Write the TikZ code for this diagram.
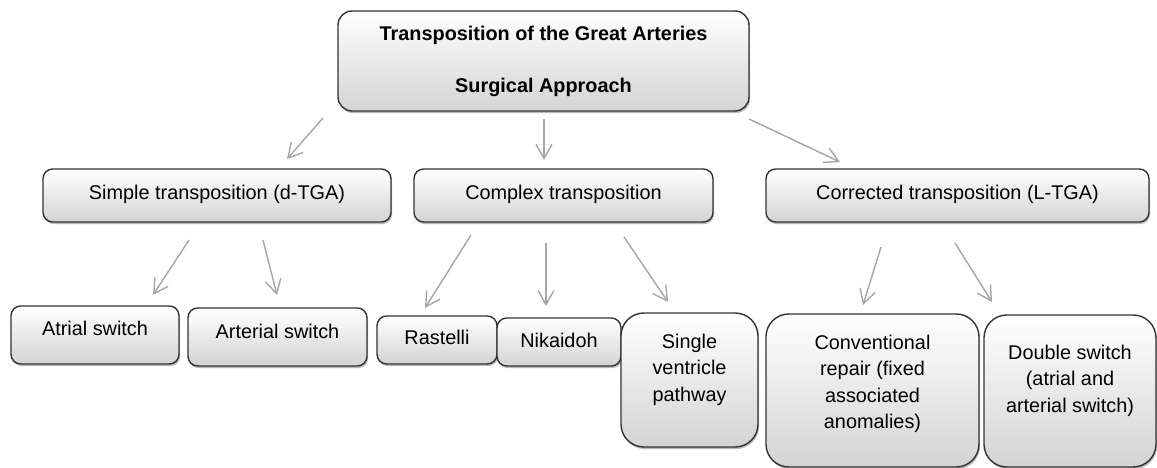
\documentclass[tikz,border=0pt]{standalone}
\usepackage{fontspec}
\setmainfont{Liberation Sans}
\usepackage{tikz}
\usetikzlibrary{arrows.meta,shadows}
\usepackage{xcolor}
\begin{document}
\begin{tikzpicture}[
    box/.style={draw=black!80,line width=0.8pt,top color=white,bottom color=black!17,rounded corners=5.5pt,align=center,inner sep=2pt,
        font=\fontsize{11.3}{15}\selectfont,drop shadow={shadow xshift=0.6pt,shadow yshift=-1.2pt,fill=black!45,opacity=0.6}},
    tall/.style={box,rounded corners=13pt},
    lift/.style={text depth=#1},
    arrow/.style={-{Straight Barb[length=8pt,width=9pt]},line width=0.8pt,color=black!35},
]
\useasboundingbox(0,0)rectangle(23.14,-9.36);
\node[box,rounded corners=8pt,font=\fontsize{11.3}{15}\selectfont\bfseries,minimum width=8.22cm,minimum height=2cm](top)at(10.87,-1.22){Transposition of the Great Arteries\\[14.5pt]Surgical Approach};
\node[box,minimum width=6.96cm,minimum height=1.06cm,lift=4pt](simple)at(4.34,-3.91){Simple transposition (d-TGA)};
\node[box,minimum width=5.98cm,minimum height=1.06cm,lift=4pt](complex)at(11.27,-3.91){Complex transposition};
\node[box,minimum width=7.66cm,minimum height=1.06cm,lift=4pt](corrected)at(19.15,-3.91){Corrected transposition (L-TGA)};
\node[box,minimum width=3.36cm,minimum height=1.16cm,lift=8pt](atrial)at(1.90,-6.70){Atrial switch};
\node[box,minimum width=3.58cm,minimum height=1.16cm,lift=7pt](arterial)at(5.55,-6.74){Arterial switch};
\node[box,minimum width=2.40cm,minimum height=0.96cm,lift=3pt](rastelli)at(8.74,-6.80){Rastelli};
\node[box,minimum width=2.48cm,minimum height=0.96cm,lift=2pt](nikaidoh)at(11.18,-6.84){Nikaidoh};
\node[tall,minimum width=2.74cm,minimum height=2.68cm,lift=14pt](single)at(13.79,-7.60){Single\\ventricle\\pathway};
\node[tall,minimum width=4.26cm,minimum height=3.06cm,lift=10pt](conventional)at(17.45,-7.81){Conventional\\repair (fixed\\associated\\anomalies)};
\node[tall,minimum width=3.44cm,minimum height=3.04cm,lift=14pt](double)at(21.40,-7.82){Double switch\\(atrial and\\arterial switch)};
\coordinate(top-s)at(6.46,-2.36);\coordinate(simple-n)at(5.74,-3.18);
\coordinate(top-c)at(10.88,-2.38);\coordinate(complex-n)at(10.88,-3.20);
\coordinate(top-r)at(14.98,-2.38);\coordinate(corrected-n)at(16.80,-3.24);
\coordinate(simple-a)at(3.78,-4.80);\coordinate(atrial-n)at(3.06,-5.90);
\coordinate(simple-b)at(5.26,-4.80);\coordinate(arterial-n)at(5.54,-5.90);
\coordinate(complex-a)at(9.42,-4.70);\coordinate(rastelli-n)at(8.50,-6.16);
\coordinate(complex-b)at(10.92,-4.86);\coordinate(nikaidoh-n)at(10.92,-6.12);
\coordinate(complex-c)at(12.48,-4.74);\coordinate(single-n)at(13.36,-6.04);
\coordinate(corrected-a)at(17.62,-4.94);\coordinate(conventional-n)at(17.26,-6.10);
\coordinate(corrected-b)at(19.10,-4.86);\coordinate(double-n)at(19.84,-6.04);
\draw[arrow](top-s)--(simple-n);
\draw[arrow](top-c)--(complex-n);
\draw[arrow](top-r)--(corrected-n);
\draw[arrow](simple-a)--(atrial-n);
\draw[arrow](simple-b)--(arterial-n);
\draw[arrow](complex-a)--(rastelli-n);
\draw[arrow](complex-b)--(nikaidoh-n);
\draw[arrow](complex-c)--(single-n);
\draw[arrow](corrected-a)--(conventional-n);
\draw[arrow](corrected-b)--(double-n);
\end{tikzpicture}
\end{document}
